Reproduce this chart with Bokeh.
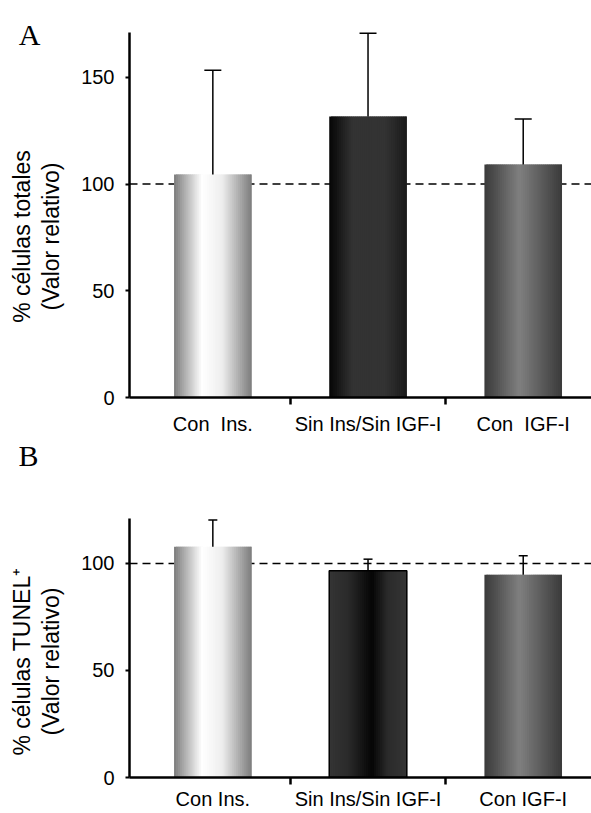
import numpy as np
from bokeh.plotting import figure
from bokeh.models import FixedTicker, Span, Range1d
from bokeh.layouts import column, row
from bokeh.core.properties import value
from bokeh.embed import file_html
from bokeh.resources import INLINE

# ---- data ----
categories_a = ["Con \u00a0Ins.", "Sin Ins/Sin IGF-I", "Con \u00a0IGF-I"]
categories_b = ["Con Ins.", "Sin Ins/Sin IGF-I", "Con IGF-I"]
values_a = [104.5, 131.7, 109.2]
errors_a = [48.8, 39.0, 21.3]
values_b = [107.8, 96.6, 94.7]
errors_b = [12.5, 5.4, 8.9]
yticks_a = [0, 50, 100, 150]
yticks_b = [0, 50, 100]
ymax_a = 171
ymax_b = 121
reference_value = 100
ytitle_a = "% células totales\n(Valor relativo)"
ytitle_b = "% células TUNEL\u207a\n(Valor relativo)"

# ---- styles / layout ----
FONT = "Liberation Sans"
grad_light = [(0.0, "#7c7c7c"), (0.36, "#ffffff"), (0.62, "#eeeeee"), (1.0, "#7c7c7c")]
grad_dark_a = [(0.0, "#050505"), (0.3, "#333333"), (0.72, "#333333"), (1.0, "#1a1a1a")]
grad_dark_b = [(0.0, "#353535"), (0.25, "#2a2a2a"), (0.55, "#050505"), (0.75, "#2a2a2a"), (1.0, "#353535")]
grad_mid = [(0.0, "#3a3a3a"), (0.45, "#808080"), (1.0, "#3a3a3a")]
BAR_W = 0.5
SIDE_W = 78
MAIN_W = 591 - SIDE_W


def _rgb(h):
    return np.array([int(h[i:i + 2], 16) for i in (1, 3, 5)], dtype=float)


def _interp(stops, t):
    for (t0, c0), (t1, c1) in zip(stops[:-1], stops[1:]):
        if t0 <= t <= t1:
            f = 0 if t1 == t0 else (t - t0) / (t1 - t0)
            c = _rgb(c0) * (1 - f) + _rgb(c1) * f
            return "#%02x%02x%02x" % tuple(int(round(v)) for v in c)
    return stops[-1][1]


def draw_bar(p, xc, top, stops, n=40, outline=False):
    edges = np.linspace(xc - BAR_W / 2, xc + BAR_W / 2, n + 1)
    step = edges[1] - edges[0]
    lefts = edges[:-1]
    rights = edges[1:].copy()
    rights[:-1] += step * 0.9  # overlap into the next strip to hide seams
    cols = [_interp(stops, (l + step / 2 - edges[0]) / BAR_W) for l in lefts]
    p.quad(left=lefts, right=rights, top=top, bottom=0,
           fill_color=cols, line_color=None)
    if outline:
        p.vbar(x=[xc], top=[top], bottom=0, width=BAR_W,
               fill_color=None, line_color="black", line_width=1.5)


def side_panel(height, top_border, bottom_border, title, letter, title_xy, letter_xy):
    fh = height - top_border - bottom_border  # side frame is aligned with the main frame
    s = figure(width=SIDE_W, height=height, output_backend="svg", toolbar_location=None,
               x_range=Range1d(0, SIDE_W), y_range=Range1d(0, fh),
               min_border_left=0, min_border_right=0,
               min_border_top=top_border, min_border_bottom=bottom_border,
               x_axis_location=None, y_axis_location=None)
    s.outline_line_color = None
    s.xgrid.grid_line_color = None
    s.ygrid.grid_line_color = None
    s.text(x=[title_xy[0]], y=[title_xy[1]], text=[title], angle=np.pi / 2,
           text_align="center", text_baseline="middle",
           text_font=value(FONT), text_font_size="23px", text_color="black",
           text_line_height=1.1)
    s.text(x=[letter_xy[0]], y=[letter_xy[1]], text=[letter],
           text_align="center", text_baseline="middle",
           text_font=value("Liberation Serif"), text_font_size="30px", text_color="black")
    return s


def make_panel(cats, vals, errs, yticks, ymax, px_per_unit, grads, outlines,
               height, top_border, bottom_border, standoff, cap):
    xs = list(range(len(cats)))
    fh = height - top_border - bottom_border
    p = figure(width=MAIN_W, height=height, output_backend="svg", toolbar_location=None,
               x_range=Range1d(-0.537, 2.44), y_range=Range1d(0, fh / px_per_unit),
               min_border_left=128 - SIDE_W, min_border_right=0,
               min_border_top=top_border, min_border_bottom=bottom_border)
    p.outline_line_color = None
    p.xgrid.grid_line_color = None
    p.ygrid.grid_line_color = None

    p.add_layout(Span(location=reference_value, dimension="width", line_color="black",
                      line_dash="8 5", line_width=1.5, level="underlay"))

    for x, v, g, o in zip(xs, vals, grads, outlines):
        draw_bar(p, x, v, g, outline=o)

    tops = [v + e for v, e in zip(vals, errs)]
    p.segment(x0=xs, y0=vals, x1=xs, y1=tops, line_color="black", line_width=1.5)
    p.scatter(x=xs, y=tops, marker="dash", size=cap, line_color="black", line_width=1.5)

    xa = p.xaxis[0]
    xa.ticker = FixedTicker(ticks=xs, minor_ticks=[0.5, 1.5])
    xa.major_label_overrides = {x: c for x, c in zip(xs, cats)}
    xa.major_tick_out = 0
    xa.major_tick_in = 0
    xa.minor_tick_out = 7
    xa.minor_tick_in = 0
    xa.minor_tick_line_color = "black"
    xa.minor_tick_line_width = 2.5
    xa.axis_line_width = 2.5
    xa.axis_line_color = "black"
    xa.major_label_text_font = FONT
    xa.major_label_text_font_size = "20px"
    xa.major_label_text_color = "black"
    xa.major_label_standoff = standoff

    ya = p.yaxis[0]
    ya.bounds = (0, ymax)
    ya.ticker = FixedTicker(ticks=yticks)
    ya.major_tick_out = 4
    ya.major_tick_in = 0
    ya.minor_tick_out = 0
    ya.minor_tick_in = 0
    ya.major_tick_line_width = 2
    ya.axis_line_width = 2.5
    ya.axis_line_color = "black"
    ya.major_label_text_font = FONT
    ya.major_label_text_font_size = "20px"
    ya.major_label_text_color = "black"
    ya.major_label_standoff = 11
    return p


# panel A: page frame 10..397 px; 0..171 drawn on 365 px
HA, TA, BA = 437, 10, 40
pa = make_panel(categories_a, values_a, errors_a, yticks_a, ymax_a, 365 / ymax_a,
                [grad_light, grad_dark_a, grad_mid], [False, False, False],
                HA, TA, BA, 8, 17)
sa = side_panel(HA, TA, BA, ytitle_a, "A", (36, 161), (29, 363))

# panel B: page frame 437..777 px; 0..121 drawn on 259 px
HB, TB, BB = 376, 0, 36
pb = make_panel(categories_b, values_b, errors_b, yticks_b, ymax_b, 259 / ymax_b,
                [grad_light, grad_dark_b, grad_mid], [False, True, False],
                HB, TB, BB, 3, 9)
sb = side_panel(HB, TB, BB, ytitle_b, "B", (36, 116), (28, 322))

layout = column(row(sa, pa, spacing=0), row(sb, pb, spacing=0), spacing=0)
open("out.html", "w").write(file_html(layout, INLINE))
